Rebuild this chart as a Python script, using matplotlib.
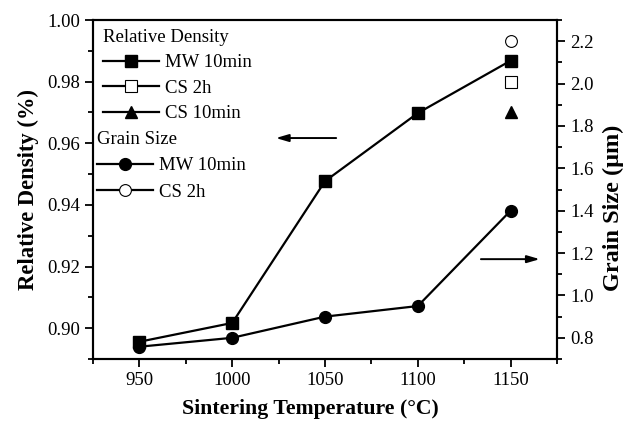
import matplotlib
matplotlib.use("Agg")
import matplotlib.pyplot as plt
from matplotlib.ticker import MultipleLocator, FormatStrFormatter
from matplotlib.lines import Line2D

plt.rcParams["font.family"] = ["Liberation Serif", "DejaVu Serif"]

# data
temps = [950, 1000, 1050, 1100, 1150]
density_mw = [0.8956, 0.9017, 0.9477, 0.9698, 0.9868]
grain_mw = [0.758, 0.80, 0.90, 0.95, 1.40]
cs_temp = [1150]
density_cs2h = [0.980]
density_cs10 = [0.9702]
grain_cs2h = [2.20]

FONT = 13.5
LW = 1.6
MS = 8

fig = plt.figure(figsize=(6.26, 4.23), dpi=100)
ax = fig.add_axes([0.1486, 0.1513, 0.7412, 0.8014])
ax2 = ax.twinx()

ax.plot(temps, density_mw, "-s", color="black", lw=LW, ms=MS, zorder=3)
ax.plot(cs_temp, density_cs2h, "s", color="black", mfc="white", mew=0.8, ms=MS)
ax.plot(cs_temp, density_cs10, "^", color="black", ms=MS + 1)
ax2.plot(temps, grain_mw, "-o", color="black", lw=LW, ms=MS + 0.5, zorder=3)
ax2.plot(cs_temp, grain_cs2h, "o", color="black", mfc="white", mew=0.8, ms=MS + 0.5)

ax.set_xlim(925, 1175)
ax.set_ylim(0.89, 1.00)
ax2.set_ylim(0.7, 2.3)
ax.xaxis.set_major_locator(MultipleLocator(50))
ax.xaxis.set_minor_locator(MultipleLocator(25))
ax.yaxis.set_major_locator(MultipleLocator(0.02))
ax.yaxis.set_minor_locator(MultipleLocator(0.01))
ax2.yaxis.set_major_locator(MultipleLocator(0.2))
ax2.yaxis.set_minor_locator(MultipleLocator(0.1))
ax.yaxis.set_major_formatter(FormatStrFormatter("%.2f"))
ax2.yaxis.set_major_formatter(FormatStrFormatter("%.1f"))

for a in (ax, ax2):
    for s in a.spines.values():
        s.set_linewidth(1.5)
    a.tick_params(which="major", direction="out", length=6, width=1.3, labelsize=FONT)
    a.tick_params(which="minor", direction="out", length=3.5, width=1.3)
ax.tick_params(axis="x", which="both", top=False)

ax.set_xlabel("Sintering Temperature (°C)", fontsize=15.7, fontweight="bold")
ax.xaxis.set_label_coords(0.468, -0.118)
ax.set_ylabel("Relative Density (%)", fontsize=16.3, fontweight="bold", labelpad=6)
ax2.set_ylabel("Grain Size (μm)", fontsize=17.5, fontweight="bold")
ax2.yaxis.set_label_coords(1.098, 0.445)

# arrows pointing to each axis
arrow = dict(arrowstyle="-|>,head_length=0.75,head_width=0.22", color="black",
             lw=1.4, mutation_scale=10, shrinkA=0, shrinkB=0)
ax.annotate("", xy=(1023.5, 0.9617), xytext=(1056, 0.9617), arrowprops=arrow)
ax.annotate("", xy=(1165.7, 0.9224), xytext=(1134, 0.9224), arrowprops=arrow)

# legends
h1 = [
    Line2D([], [], color="black", lw=LW, marker="s", ms=MS),
    Line2D([], [], color="black", lw=LW, marker="s", ms=MS, mfc="white", mew=0.8),
    Line2D([], [], color="black", lw=LW, marker="^", ms=MS + 1),
]
leg1 = ax2.legend(h1, ["MW 10min", "CS 2h", "CS 10min"], title="Relative Density",
                  loc="upper left", bbox_to_anchor=(-0.003, 1.008), frameon=False,
                  fontsize=FONT, title_fontsize=FONT, handlelength=3.0,
                  handletextpad=0.3, labelspacing=0.45, alignment="left",
                  borderaxespad=0.2)
ax2.add_artist(leg1)
h2 = [
    Line2D([], [], color="black", lw=LW, marker="o", ms=MS + 0.5),
    Line2D([], [], color="black", lw=LW, marker="o", ms=MS + 0.5, mfc="white", mew=0.8),
]
ax2.legend(h2, ["MW 10min", "CS 2h"], title="Grain Size",
           loc="upper left", bbox_to_anchor=(-0.016, 0.706), frameon=False,
           fontsize=FONT, title_fontsize=FONT, handlelength=3.0,
           handletextpad=0.3, labelspacing=0.5, alignment="left",
           borderaxespad=0.2)

fig.savefig("out.png", dpi=100)
